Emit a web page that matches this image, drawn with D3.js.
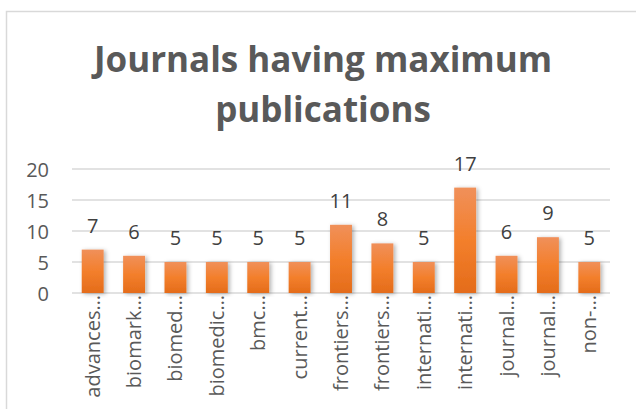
<!DOCTYPE html>
<html>
<head>
<meta charset="utf-8">
<script src="https://cdn.jsdelivr.net/npm/d3@7"></script>
<style>
  html, body { margin: 0; padding: 0; background: #fff; }
  svg { display: block; }
</style>
</head>
<body>
<div id="chart"></div>
<script>
const journals = ['advances…', 'biomark…', 'biomed…', 'biomedic…', 'bmc…', 'current…',
  'frontiers…', 'frontiers…', 'internati…', 'internati…', 'journal…', 'journal…', 'non-…'];
const counts = [7, 6, 5, 5, 5, 5, 11, 8, 5, 17, 6, 9, 5];
const yTicks = [0, 5, 10, 15, 20];
const titleLines = ['Journals having maximum', 'publications'];

const width = 636, height = 409;
const margin = { top: 169, right: 26, bottom: 116, left: 72 };

const svg = d3.select('#chart')
  .append('svg')
  .attr('width', width)
  .attr('height', height);

// chart frame, cut off at right and bottom like the source
svg.append('rect')
  .attr('x', 6.5).attr('y', 11.5)
  .attr('width', 700).attr('height', 500)
  .attr('fill', 'none')
  .attr('stroke', '#d9d9d9')
  .attr('stroke-width', 1.5);

const grad = svg.append('defs').append('linearGradient')
  .attr('id', 'barGrad')
  .attr('x1', 0).attr('y1', 0).attr('x2', 0).attr('y2', 1);
grad.append('stop').attr('offset', '0%').attr('stop-color', '#f0905a');
grad.append('stop').attr('offset', '50%').attr('stop-color', '#f37f2c');
grad.append('stop').attr('offset', '100%').attr('stop-color', '#e46c1a');

const shadow = svg.select('defs').append('filter')
  .attr('id', 'shadow')
  .attr('x', '-30%').attr('y', '-10%').attr('width', '170%').attr('height', '120%');
shadow.append('feDropShadow')
  .attr('dx', 2).attr('dy', 1).attr('stdDeviation', 2)
  .attr('flood-color', '#000').attr('flood-opacity', 0.3);

const title = svg.append('text')
  .attr('x', 323)
  .attr('text-anchor', 'middle')
  .style('font-family', 'Open Sans')
  .style('font-weight', 'bold')
  .style('font-size', '35px')
  .attr('fill', '#595959');
title.selectAll('tspan')
  .data(titleLines)
  .enter()
  .append('tspan')
  .attr('x', 323)
  .attr('y', (d, i) => 72 + i * 50)
  .text(d => d);

const g = svg.append('g')
  .attr('transform', `translate(${margin.left},${margin.top})`);

const w = width - margin.left - margin.right;
const h = height - margin.top - margin.bottom;

const x = d3.scaleBand()
  .domain(d3.range(journals.length))
  .range([0, w])
  .paddingInner(0.47)
  .paddingOuter(0.235);

const y = d3.scaleLinear()
  .domain([0, 20])
  .range([h, 0]);

// gridlines
g.selectAll('line.grid')
  .data(yTicks)
  .enter()
  .append('line')
  .attr('class', 'grid')
  .attr('x1', 0).attr('x2', w)
  .attr('y1', d => y(d)).attr('y2', d => y(d))
  .attr('stroke', '#d9d9d9')
  .attr('stroke-width', 1.5);

g.selectAll('rect.bar')
  .data(counts)
  .enter()
  .append('rect')
  .attr('class', 'bar')
  .attr('x', (d, i) => x(i))
  .attr('y', d => y(d))
  .attr('width', x.bandwidth())
  .attr('height', d => h - y(d))
  .attr('fill', 'url(#barGrad)')
  .attr('filter', 'url(#shadow)');

g.selectAll('text.val')
  .data(counts)
  .enter()
  .append('text')
  .attr('class', 'val')
  .attr('x', (d, i) => x(i) + x.bandwidth() / 2)
  .attr('y', d => y(d) - 17)
  .attr('text-anchor', 'middle')
  .style('font-family', 'Open Sans')
  .style('font-size', '20px')
  .attr('fill', '#404040')
  .text(d => d);

const yAxis = g.append('g')
  .call(d3.axisLeft(y).tickValues(yTicks).tickSize(0).tickPadding(23));
yAxis.select('.domain').remove();
yAxis.selectAll('text')
  .style('font-family', 'Open Sans')
  .style('font-size', '20px')
  .attr('fill', '#595959')
  .attr('dy', '0.35em');

const xAxis = g.append('g')
  .attr('transform', `translate(0,${h})`)
  .call(d3.axisBottom(x).tickFormat(i => journals[i]).tickSize(0));
xAxis.select('.domain').remove();
xAxis.selectAll('text')
  .style('font-family', 'Open Sans')
  .style('font-size', '20px')
  .attr('fill', '#595959')
  .attr('text-anchor', 'end')
  .attr('transform', 'rotate(-90)')
  .attr('x', -2)
  .attr('y', 0)
  .attr('dy', '0.35em');
</script>
</body>
</html>
